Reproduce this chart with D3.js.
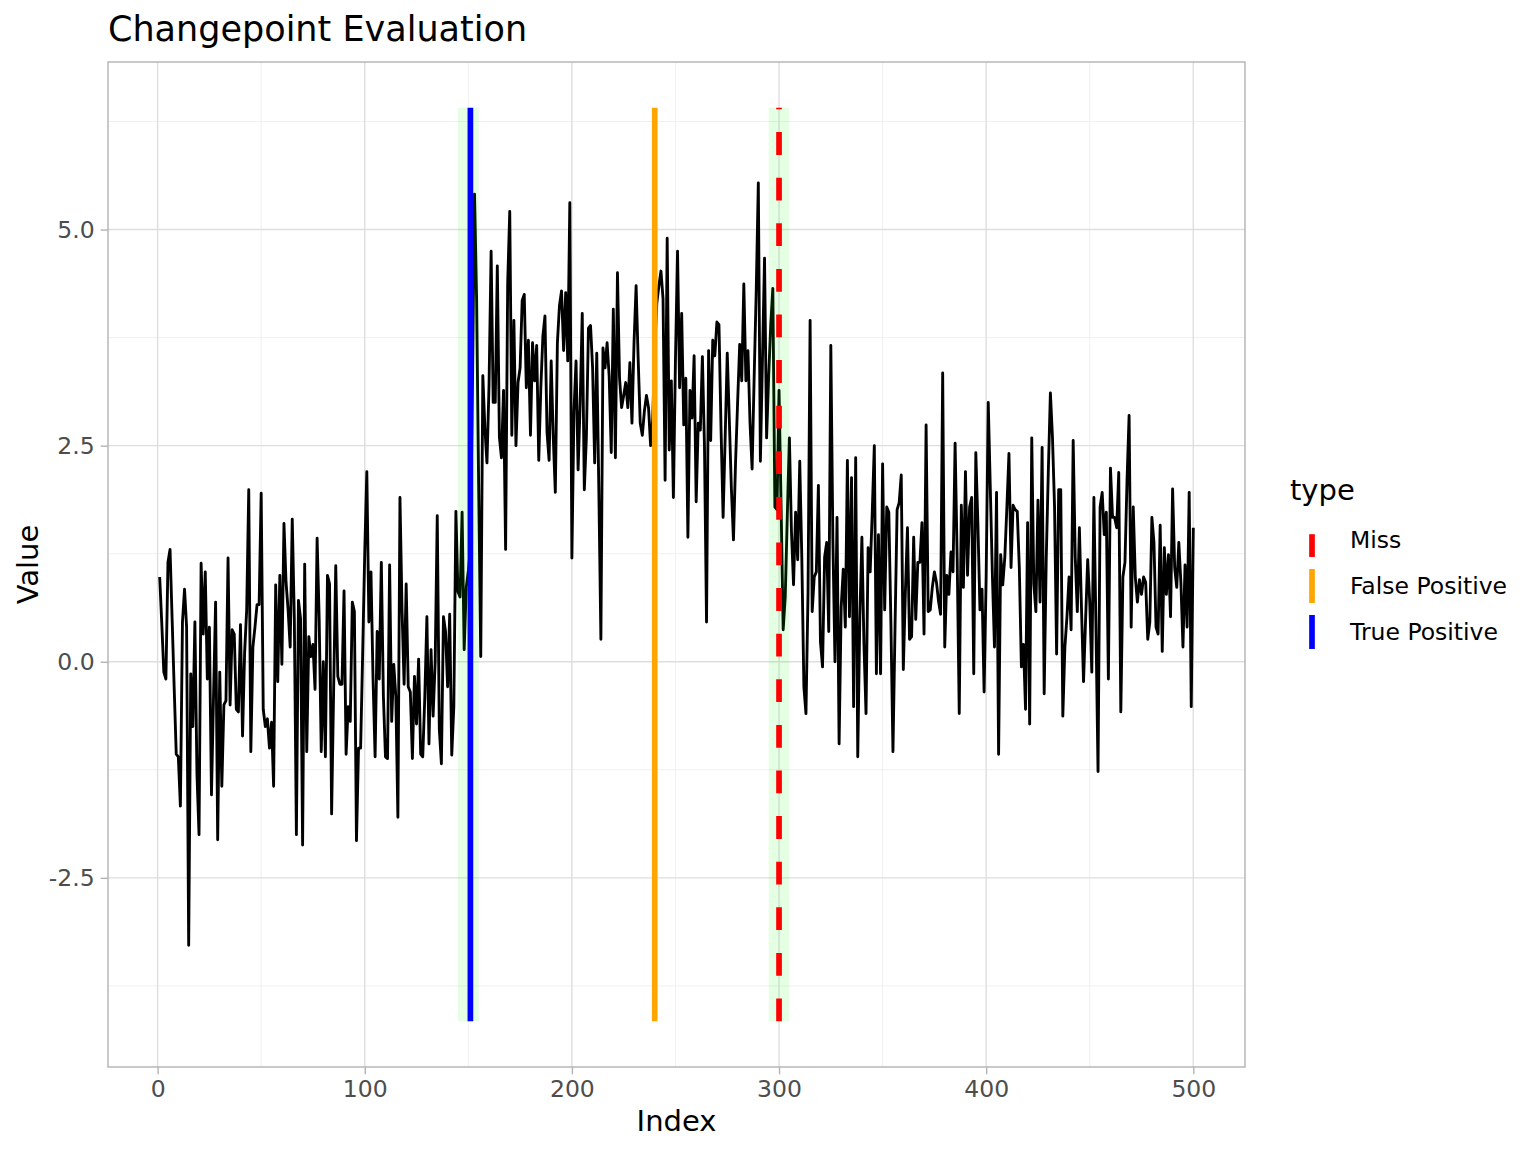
<!DOCTYPE html>
<html>
<head>
<meta charset="utf-8">
<script src="https://cdn.jsdelivr.net/npm/d3@7"></script>
<style>
  html, body { margin: 0; padding: 0; background: #ffffff; }
  svg { display: block; font-family: "DejaVu Sans", sans-serif; }
</style>
</head>
<body>
<svg id="chart" width="1536" height="1152"></svg>
<script>
// ---------------- DATA ----------------
const seriesIndex = d3.range(1, 501);
const seriesValues = [
  0.98, 0.45, -0.12, -0.2, 1.15, 1.3, 0.5, -0.3, -1.07, -1.1,
  -1.67, 0.46, 0.84, 0.4, -3.28, -0.14, -0.75, 0.46, -1.3, -2.0,
  1.14, 0.32, 1.04, -0.2, 0.4, -1.54, -0.4, 0.69, -2.06, -0.12,
  -1.44, -0.5, -0.45, 1.2, -0.5, 0.37, 0.32, -0.55, -0.58, 0.43,
  -0.86, 0.1, 0.6, 1.99, -1.04, 0.17, 0.4, 0.66, 0.66, 1.95,
  -0.55, -0.75, -0.66, -1.0, -0.7, -1.44, 0.89, -0.23, 1.0, -0.03,
  1.6, 0.92, 0.6, 0.17, 1.65, 0.5, -2.0, 0.71, 0.5, -2.12,
  1.13, -1.04, 0.29, 0.06, 0.2, -0.32, 1.43, 0.5, -1.04, 0.0,
  -1.1, 1.0, 0.9, -1.76, -0.3, 1.11, -0.17, -0.26, -0.26, 0.82,
  -1.07, -0.52, -0.69, 0.69, 0.58, -2.07, -1.0, -1.0, 0.1, 1.27,
  2.2, 0.46, 1.04, -0.2, -1.1, 0.35, -0.2, 1.15, -0.4, -1.1,
  -1.12, 1.12, -0.69, -0.03, -0.4, -1.8, 1.9, 0.6, -0.26, 0.9,
  -0.29, -0.35, -1.12, -0.17, -0.72, 0.03, -1.07, -1.1, -0.4, 0.52,
  -0.95, 0.14, -0.63, 0.0, 1.69, -0.78, -1.18, 0.52, 0.35, -0.29,
  0.55, -1.08, -0.52, 1.74, 0.81, 0.75, 1.73, 0.14, 0.86, 1.05,
  1.3, 3.2, 5.41, 4.2, 2.0, 0.06, 3.31, 2.7, 2.3, 3.2,
  4.75, 3.0, 3.0, 4.58, 2.6, 2.36, 3.14, 1.3, 4.38, 5.21,
  2.62, 3.95, 2.5, 3.23, 3.4, 4.18, 4.25, 3.17, 3.72, 2.62,
  3.69, 3.25, 3.66, 2.33, 3.17, 3.77, 4.0, 2.65, 2.33, 3.48,
  2.6, 1.96, 3.69, 4.12, 4.29, 3.6, 4.27, 3.48, 5.31, 1.2,
  2.9, 3.48, 2.22, 3.0, 4.03, 1.99, 2.6, 3.86, 3.89, 3.4,
  2.3, 3.57, 2.0, 0.26, 3.63, 3.4, 3.69, 3.3, 2.42, 4.08,
  2.36, 4.5, 3.28, 2.94, 3.08, 3.23, 2.94, 3.46, 2.76, 3.69,
  4.35, 3.5, 2.76, 2.62, 2.9, 3.08, 2.94, 2.5, 2.8, 3.6,
  4.15, 4.35, 4.52, 4.2, 2.1, 4.9, 2.45, 3.25, 1.9, 3.5,
  4.75, 3.17, 4.03, 2.74, 3.28, 1.44, 3.14, 2.82, 3.54, 1.85,
  2.76, 2.68, 3.53, 2.5, 0.46, 3.6, 2.56, 3.72, 3.54, 3.93,
  3.9, 2.7, 1.67, 2.6, 3.57, 2.8, 2.0, 1.41, 2.3, 3.0,
  3.67, 3.25, 4.37, 3.25, 3.6, 2.76, 2.23, 3.3, 4.3, 5.54,
  2.32, 3.5, 4.67, 2.59, 3.3, 3.9, 4.32, 1.79, 1.76, 3.14,
  1.8, 0.37, 0.75, 1.7, 2.59, 1.5, 0.89, 1.73, 1.18, 2.32,
  1.2, -0.29, -0.6, 0.8, 3.95, 0.58, 0.98, 1.04, 2.04, 0.23,
  -0.06, 1.21, 1.38, 0.35, 3.66, 1.4, 0.0, 1.67, -0.95, 0.63,
  1.07, 0.4, 2.33, 0.52, 2.13, -0.52, 2.36, -1.1, 0.5, 1.44,
  0.2, -0.6, 1.32, 1.04, 1.73, 2.5, -0.14, 1.47, -0.14, 2.29,
  0.6, 1.79, 1.73, 0.46, -1.04, 0.4, 1.76, 1.84, 2.16, -0.09,
  0.81, 1.55, 0.26, 0.29, 1.44, 0.49, 1.15, 1.15, 1.61, 0.32,
  2.74, 0.58, 0.6, 0.86, 1.04, 0.92, 0.7, 0.55, 3.34, 0.17,
  1.0, 0.78, 1.27, 1.04, 2.53, 1.2, -0.6, 1.81, 0.86, 2.2,
  1.0, 1.79, 1.9, -0.14, 2.42, 1.6, 0.6, 0.84, -0.35, 1.0,
  3.0, 2.0, 1.0, 0.17, 1.96, -1.07, 1.24, 0.89, 1.21, 1.79,
  2.41, 1.09, 1.81, 1.76, 1.74, 1.09, -0.06, 0.2, -0.55, 1.61,
  -0.72, 2.59, 0.9, 0.58, 1.87, 0.69, 2.48, -0.37, 1.2, 2.2,
  3.11, 2.6, 1.8, 0.09, 1.99, 1.99, -0.63, 0.17, 0.52, 0.98,
  0.37, 2.56, 1.21, 0.58, 1.55, 0.63, -0.23, 0.49, 1.18, 0.69,
  -0.12, 1.9, 0.4, -1.27, 1.79, 1.96, 1.47, 1.73, -0.2, 2.24,
  1.67, 1.67, 1.55, 2.19, -0.58, 0.98, 1.15, 2.1, 2.85, 0.4,
  1.79, 0.98, 0.69, 0.95, 0.78, 0.98, 0.92, 0.26, 0.46, 1.67,
  1.38, 0.4, 0.32, 1.58, 0.12, 1.32, 0.78, 1.24, 0.52, 2.0,
  1.09, 0.86, 1.38, 0.92, 0.17, 1.12, 0.4, 1.96, -0.52, 1.55
];

// change points (type, position)
const cpTypes = ["Miss", "False Positive", "True Positive"];
const cpPositions = [300, 240, 151];
// tolerance windows around true changepoints
const bandStarts = [145, 295];
const bandEnds = [155, 305];
// vertical extent of segments / windows (data units)
const segmentExtent = [-4.16, 6.41];

// ticks
const xTicks = [0, 100, 200, 300, 400, 500];
const xTickLabels = ["0", "100", "200", "300", "400", "500"];
const xMinor = [50, 150, 250, 350, 450];
const yTicks = [-2.5, 0, 2.5, 5];
const yTickLabels = ["-2.5", "0.0", "2.5", "5.0"];
const yMinor = [-3.75, -1.25, 1.25, 3.75, 6.25];

// ---------------- LAYOUT ----------------
const panel = { left: 108, right: 1245, top: 62, bottom: 1067 };
const typeColor = d3.scaleOrdinal().domain(cpTypes).range(["#ff0000", "#ffa500", "#0000ff"]);
const typeDash = d3.scaleOrdinal().domain(cpTypes).range(["22.8,22.8", null, null]);

const xExt = d3.extent(seriesIndex);
const xPad = (xExt[1] - xExt[0]) * 0.05;
const x = d3.scaleLinear().domain([xExt[0] - xPad, xExt[1] + xPad]).range([panel.left, panel.right]);
const yPad = (segmentExtent[1] - segmentExtent[0]) * 0.05;
const y = d3.scaleLinear().domain([segmentExtent[0] - yPad, segmentExtent[1] + yPad]).range([panel.bottom, panel.top]);

const svg = d3.select("#chart");

// grid
const grid = svg.append("g");
grid.selectAll("line.xminor").data(xMinor).join("line")
  .attr("x1", d => x(d)).attr("x2", d => x(d)).attr("y1", panel.top).attr("y2", panel.bottom)
  .attr("stroke", "#ebebeb").attr("stroke-width", 0.75);
grid.selectAll("line.yminor").data(yMinor).join("line")
  .attr("y1", d => y(d)).attr("y2", d => y(d)).attr("x1", panel.left).attr("x2", panel.right)
  .attr("stroke", "#ebebeb").attr("stroke-width", 0.75);
grid.selectAll("line.xmajor").data(xTicks).join("line")
  .attr("x1", d => x(d)).attr("x2", d => x(d)).attr("y1", panel.top).attr("y2", panel.bottom)
  .attr("stroke", "#dedede").attr("stroke-width", 1.4);
grid.selectAll("line.ymajor").data(yTicks).join("line")
  .attr("y1", d => y(d)).attr("y2", d => y(d)).attr("x1", panel.left).attr("x2", panel.right)
  .attr("stroke", "#dedede").attr("stroke-width", 1.4);

// data line
const lineGen = d3.line().x((d, i) => x(seriesIndex[i])).y(d => y(d));
svg.append("path").datum(seriesValues)
  .attr("d", lineGen).attr("fill", "none").attr("stroke", "#000000")
  .attr("stroke-width", 2.85).attr("stroke-linejoin", "round").attr("stroke-linecap", "butt");

// tolerance windows
svg.append("g").selectAll("rect").data(bandStarts).join("rect")
  .attr("x", d => x(d)).attr("width", (d, i) => x(bandEnds[i]) - x(d))
  .attr("y", y(segmentExtent[1])).attr("height", y(segmentExtent[0]) - y(segmentExtent[1]))
  .attr("fill", "rgb(0,255,0)").attr("fill-opacity", 0.1);

// changepoint segments (drawn bottom to top)
svg.append("g").selectAll("line").data(cpTypes).join("line")
  .attr("x1", (d, i) => x(cpPositions[i])).attr("x2", (d, i) => x(cpPositions[i]))
  .attr("y1", y(segmentExtent[0])).attr("y2", y(segmentExtent[1]))
  .attr("stroke", d => typeColor(d)).attr("stroke-width", 5.7)
  .attr("stroke-dasharray", d => typeDash(d));

// panel border
svg.append("rect")
  .attr("x", panel.left).attr("y", panel.top)
  .attr("width", panel.right - panel.left).attr("height", panel.bottom - panel.top)
  .attr("fill", "none").attr("stroke", "#b3b3b3").attr("stroke-width", 1.4);

// axes ticks
const xAxis = d3.axisBottom(x).tickValues(xTicks).tickFormat((d, i) => xTickLabels[i]).tickSize(7.3).tickPadding(6);
const gx = svg.append("g").attr("transform", `translate(0,${panel.bottom})`).call(xAxis);
gx.select(".domain").remove();
gx.selectAll(".tick line").attr("stroke", "#b3b3b3").attr("stroke-width", 1.4);
gx.selectAll(".tick text").attr("fill", "#4d4d4d").attr("font-size", 23.5)
  .attr("font-family", "DejaVu Sans");

const yAxis = d3.axisLeft(y).tickValues(yTicks).tickFormat((d, i) => yTickLabels[i]).tickSize(7.3).tickPadding(6);
const gy = svg.append("g").attr("transform", `translate(${panel.left},0)`).call(yAxis);
gy.select(".domain").remove();
gy.selectAll(".tick line").attr("stroke", "#b3b3b3").attr("stroke-width", 1.4);
gy.selectAll(".tick text").attr("fill", "#4d4d4d").attr("font-size", 23.5)
  .attr("font-family", "DejaVu Sans");

// title
svg.append("text").attr("x", panel.left).attr("y", 41)
  .attr("font-size", 35).attr("fill", "#000").text("Changepoint Evaluation");

// axis titles
svg.append("text").attr("x", (panel.left + panel.right) / 2).attr("y", 1131)
  .attr("text-anchor", "middle").attr("font-size", 29).attr("fill", "#000").text("Index");
svg.append("text").attr("transform", `translate(38,${(panel.top + panel.bottom) / 2}) rotate(-90)`)
  .attr("text-anchor", "middle").attr("font-size", 29).attr("fill", "#000").text("Value");

// legend
const legend = svg.append("g");
legend.append("text").attr("x", 1290).attr("y", 500).attr("font-size", 29).attr("fill", "#000").text("type");
const rowCenter = 540, rowH = 46, keyHalf = 17;
const rows = legend.selectAll("g.row").data(cpTypes).join("g")
  .attr("transform", (d, i) => `translate(0,${rowCenter + i * rowH})`);
rows.append("line")
  .attr("x1", 1312).attr("x2", 1312).attr("y1", keyHalf).attr("y2", -keyHalf)
  .attr("stroke", d => typeColor(d)).attr("stroke-width", 5.7)
  .attr("stroke-dasharray", d => typeDash(d));
rows.append("text").attr("x", 1350).attr("y", 0).attr("dy", "0.35em")
  .attr("font-size", 23.5).attr("fill", "#000").text(d => d);
</script>
</body>
</html>
